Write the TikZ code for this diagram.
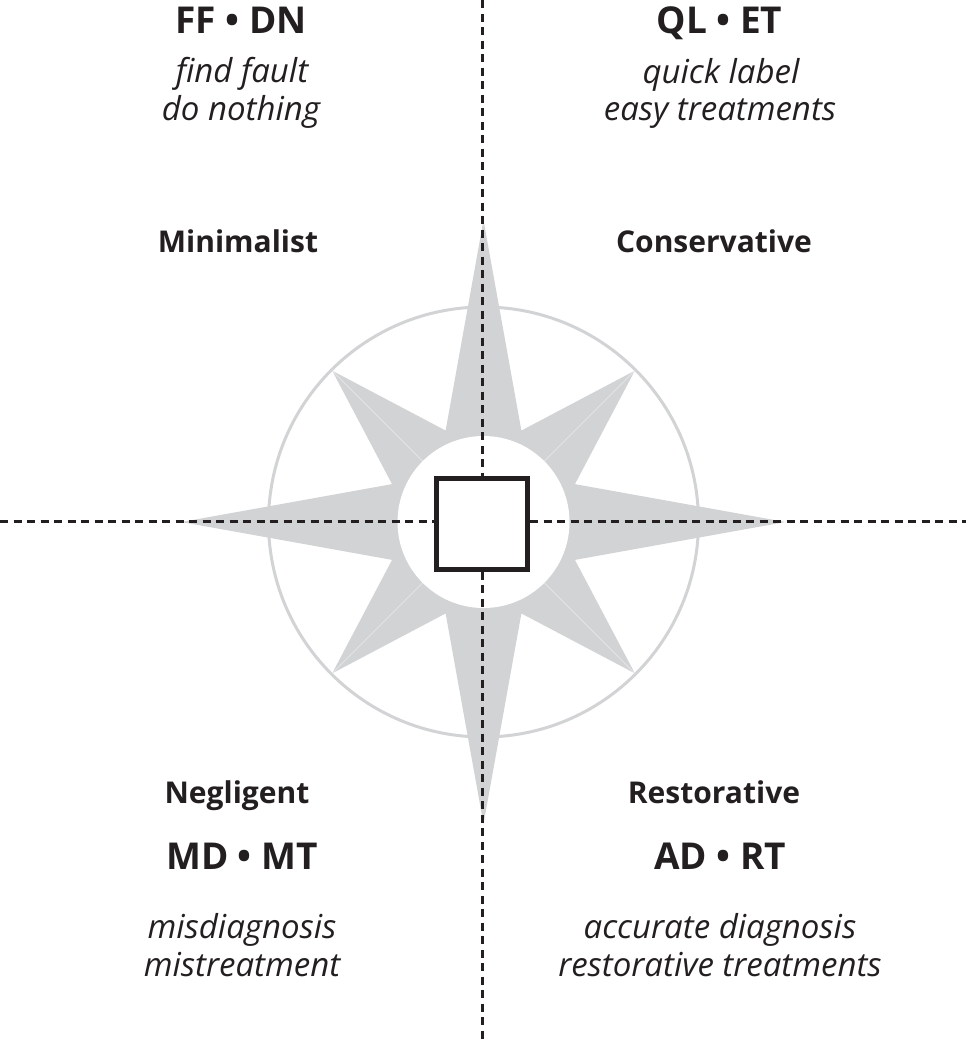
\documentclass[tikz,border=0pt]{standalone}
\usepackage{fontspec}
\setmainfont{Open Sans}
\definecolor{ink}{HTML}{231F20}
\definecolor{lgray}{HTML}{D1D3D4}
\begin{document}
\begin{tikzpicture}[x=1pt,y=-1pt,
  head/.style={font=\fontsize{37}{42}\selectfont\bfseries, text=ink, anchor=base, inner sep=0pt},
  sub/.style={font=\fontsize{33}{38}\selectfont\itshape, text=ink, anchor=base, inner sep=0pt},
  lab/.style={font=\fontsize{30}{35}\selectfont\bfseries, text=ink, anchor=base, inner sep=0pt},
  guide/.style={draw=ink, line width=3pt, dash pattern=on 8pt off 5.5pt},
  ring/.style={draw=lgray, line width=3pt},
  seam/.style={draw=white, opacity=0.6, line width=0.5pt},
  centrebox/.style={draw=ink, line width=5pt, fill=white, minimum size=91pt, inner sep=0pt}
]
\useasboundingbox (0,0) rectangle (966,1044);
\coordinate (c) at (483.5,522);
% outer ring
\draw[ring] (c) circle[radius=215];
% star
\fill[lgray] ([shift={(0:302)}]c) -- ([shift={(22.5:99)}]c) -- ([shift={(45:214)}]c) -- ([shift={(67.5:99)}]c)
  -- ([shift={(90:302)}]c) -- ([shift={(112.5:99)}]c) -- ([shift={(135:214)}]c) -- ([shift={(157.5:99)}]c)
  -- ([shift={(180:302)}]c) -- ([shift={(202.5:99)}]c) -- ([shift={(225:214)}]c) -- ([shift={(247.5:99)}]c)
  -- ([shift={(270:302)}]c) -- ([shift={(292.5:99)}]c) -- ([shift={(315:214)}]c) -- ([shift={(337.5:99)}]c) -- cycle;
\foreach \a in {45,135,225,315}{
  \draw[seam] (c) -- ([shift={(\a:214)}]c);
}
% inner white disc
\fill[white] (c) circle[radius=86];
% centre square
\node[centrebox] (sq) at (482,523.5) {};
% guides
\coordinate (vt) at (482,0);
\coordinate (vb) at (482,1044);
\coordinate (hl) at (0,521);
\coordinate (hr) at (966,521);
\draw[guide] (vt) -- (sq.north);
\draw[guide] (sq.south) -- (vb);
\draw[guide] (hl) -- (hl -| sq.west);
\draw[guide] (hr -| sq.east) -- (hr);
% texts
\node[head] (ffdn) at (241,33) {FF • DN};
\node[sub] (ff1) at (242,82) {find fault};
\node[sub] (ff2) at (241,120) {do nothing};
\node[head] (qlet) at (719.5,33) {QL • ET};
\node[sub] (ql1) at (721,83) {quick label};
\node[sub] (ql2) at (720,120) {easy treatments};
\node[lab] (mini) at (238,252) {Minimalist};
\node[lab] (cons) at (714,252) {Conservative};
\node[lab] (negl) at (237,803) {Negligent};
\node[lab] (rest) at (714,803) {Restorative};
\node[head] (mdmt) at (242,869) {MD • MT};
\node[sub] (md1) at (242,938) {misdiagnosis};
\node[sub] (md2) at (242,976) {mistreatment};
\node[head] (adrt) at (720,869) {AD • RT};
\node[sub] (ad1) at (720,938) {accurate diagnosis};
\node[sub] (ad2) at (720,976) {restorative treatments};
\end{tikzpicture}
\end{document}
